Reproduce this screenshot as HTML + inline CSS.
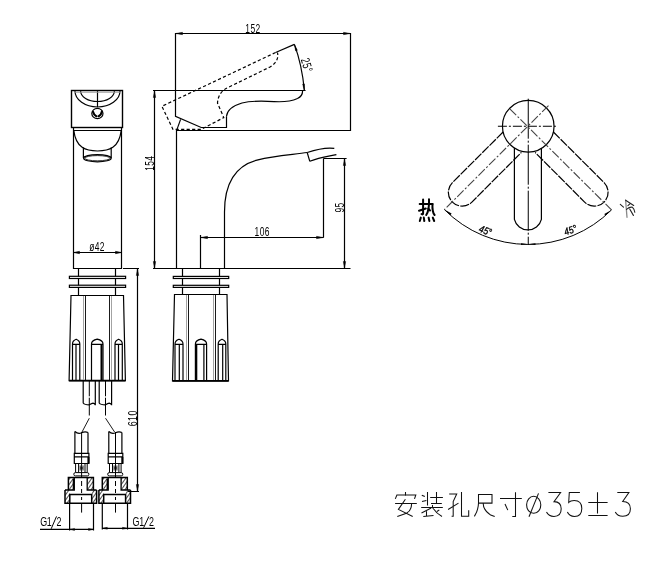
<!DOCTYPE html>
<html><head><meta charset="utf-8">
<style>
html,body{margin:0;padding:0;background:#fff;width:672px;height:562px;overflow:hidden}
svg{display:block;will-change:transform}
text{font-family:"Liberation Sans",sans-serif;fill:#000}
</style></head><body>
<svg width="672" height="562" viewBox="0 0 672 562">
<defs><pattern id="hatch" patternUnits="userSpaceOnUse" width="3" height="3" patternTransform="rotate(-55)"><rect width="3" height="3" fill="#fff"/><line x1="0" y1="1.5" x2="3" y2="1.5" stroke="#222" stroke-width="0.8"/></pattern></defs>
<g fill="none" stroke="#000" stroke-width="1.2" stroke-linecap="butt" stroke-linejoin="miter">

<!-- ============ FRONT VIEW (left) ============ -->
<rect x="71.5" y="90.5" width="51" height="37" stroke-width="1.4"/>
<path d="M75 91 A22.5 16 0 0 0 120 91"/>
<path d="M80.6 91 A16.9 10.5 0 0 0 114.4 91"/>
<path d="M97.5 91 V107"/>
<path d="M75 92.2 H120" stroke="#999" stroke-width="1"/>
<ellipse cx="97.4" cy="113.5" rx="5.6" ry="5.2"/>
<path d="M93 111.8 Q93.8 115 96.3 116.2 M101.9 111.4 Q101.2 115 98.6 116.2" stroke-width="2.1" stroke-linecap="round"/>
<!-- body -->
<path d="M73.5 127.5 V268.5 H121.5 V127.5"/>
<path d="M73.5 130.5 H121.5"/>
<path d="M73.8 130.6 C76 148 86 151 97.5 151 C109 151 119 148 121.2 130.6"/>
<path d="M83.4 147.5 V158 M111.2 147.5 V158"/>
<ellipse cx="97.4" cy="158.2" rx="13.8" ry="3.6"/>
<ellipse cx="97.4" cy="158.2" rx="12.6" ry="2.6" stroke-width="0.8"/>
<!-- dim 42 -->
<path d="M73.5 252.5 H121.5"/>
<path d="M73.5 252.5 l6 -1.2 v2.4 z M121.5 252.5 l-6 -1.2 v2.4 z" fill="#000" stroke-width="0.5"/>
<!-- neck + flanges -->
<path d="M78.5 268.5 V295.5 M115.5 268.5 V295.5"/>
<rect x="69.4" y="276.3" width="56.2" height="2.2" fill="#fff"/>
<rect x="69.4" y="285.2" width="56.2" height="2.2" fill="#fff"/>
<!-- nut -->
<path d="M71 295.5 H123.5 L125.4 380.6 H69.1 Z"/>
<path d="M69.1 380.6 H125.4" stroke-width="1.8"/>
<path d="M85.5 296 V380 M109.5 296 V380" stroke="#000" stroke-width="0.9"/>
<path d="M83.5 296 V380 M111.5 296 V380" stroke="#999" stroke-width="0.9"/>
<!-- slots -->
<path d="M72.5 380 V344 Q72.5 340.5 76.15 339.2 Q79.8 340.5 79.8 344 V380 M72.5 344.3 H79.8 M76 344 V380"/>
<path d="M91.5 380 V344 Q91.5 340.5 97.25 339.2 Q103 340.5 103 344 V380 M91.5 344.3 H103"/>
<path d="M101.5 345 V380" stroke-width="2"/>
<path d="M115 380 V344 Q115 340.5 118.65 339.2 Q122.3 340.5 122.3 344 V380 M115 344.3 H122.3 M118.5 344 V380"/>
<!-- hoses upper -->
<path d="M83.2 380.6 V403 Q84.5 404.8 89.3 404.8 Q92 403.2 93 403.2 Q95 403.4 95.3 405.2 V380.6 M99.2 380.6 V403 Q100.5 404.8 105.5 404.8 Q108 403.2 109.2 403.2 Q111.2 403.4 111.6 405.2 V380.6"/>
<path d="M89.3 381 V396.3 M89.3 397.7 V415.5 M105.5 381 V396.3 M105.5 397.7 V415.5" stroke-width="1"/>
<path d="M89.3 418.2 L82 432 M105.5 418.2 L114.6 432" stroke-width="0.9"/>
<!-- hoses lower -->
<g id="fit">
<path d="M74.9 431.5 Q78 434.5 81.6 432.8 Q85 431 88 432.5"/>
<path d="M74.9 431.5 V453.4 M88 432.5 V453.4"/>
<path d="M81.6 432 V478" stroke-width="1"/>
<!-- hex nut -->
<path d="M74.3 453.4 H88.9 V463.5 H74.3 Z M74.3 456.9 H88.9"/>
<path d="M88.4 456.9 V463.5" stroke-width="2"/>
<!-- threaded -->
<path d="M75.6 463.5 V472.5 M87.2 463.5 V472.5 M78.6 463.5 V472.5 M85 463.5 V472.5" stroke-width="1"/>
<path d="M80.2 465.5 V470.5 M83 465.5 V470.5 M80.2 468 H83" stroke-width="0.9"/>
<rect x="73.8" y="472.6" width="15.1" height="3.3" rx="1.6" stroke-width="1"/>
<!-- fitting -->
<path d="M68.7 477.5 H74.3 V490 H68.7 Z M87.2 477.5 H93.1 V490 H87.2 Z M65 490 H69.8 V503.2 H65 Z M91.7 490 H96.6 V503.2 H91.7 Z" fill="url(#hatch)" stroke="none"/>
<path d="M68.4 490 V477.5 H93.4 V490" stroke-width="1.5"/>
<path d="M65 490 H74.3 V477.5 M96.6 490 H87.2 V477.5" stroke-width="1.3"/>
<path d="M65 490 V503.3 H96.6 V490" stroke-width="1.5"/>
<path d="M69.8 503.3 V494.4 H91.7 V503.3" stroke-width="1.5"/>
<path d="M73.5 479 V489.5" stroke-width="1.6"/>
<path d="M81.6 481 V486 M81.6 489 V493" stroke-width="1"/>
<path d="M81.6 497 V500" stroke-width="1"/>
</g>
<use href="#fit" transform="translate(33.9 0)"/>
<!-- G1/2 dims -->
<path d="M51.2 528.8 L56.5 516.4 M143.6 527.8 L148.9 516.4" stroke-width="1"/>
<path d="M81.6 503 V512.6 M115.5 503 V512.6" stroke-width="1"/>
<path d="M69.6 503 V530.5 M93.5 503 V530.5 M40 529.4 H93.5"/>
<path d="M69.6 529.4 l5 -1 v2 z M93.5 529.4 l-5 -1 v2 z" fill="#000" stroke-width="0.4"/>
<path d="M102.3 503 V529.5 M127.5 503 V529.5 M102.3 528.3 H155"/>
<path d="M102.3 528.3 l5 -1 v2 z M127.5 528.3 l-5 -1 v2 z" fill="#000" stroke-width="0.4"/>
<!-- 610 dim -->
<path d="M123 268.5 H139 M137.5 268.5 V491.5 M128 491.5 H139"/>
<path d="M137.5 268.5 l-1.2 7 h2.4 z M137.5 491.5 l-1.2 -7 h2.4 z" fill="#000" stroke-width="0.4"/>

<!-- ============ SIDE VIEW (middle) ============ -->
<path d="M175.5 33.5 H350.5"/>
<path d="M175.5 33.5 l7 -1.2 v2.4 z M350.5 33.5 l-7 -1.2 v2.4 z" fill="#000" stroke-width="0.4"/>
<path d="M175.5 33 V116.3 L201.2 127.5 H226.5 V116.3"/>
<path d="M350.5 33 V130.5 H176.5 V268.5"/>
<path d="M153 90.5 H305.6"/>
<path d="M226.5 116.3 C227 111 232 106 242 103 C250 101 262 100.8 274 101.6 C284 102.2 292 101 297.5 98.5 C301.5 96.5 302.8 93.5 302.5 90.5"/>
<!-- dashed rotated handle -->
<path d="M294.4 44.4 L275.6 52.5" />
<path d="M275.6 52.5 L161.9 106.3 L173 129.4 H201 L223.8 117.6 L217.5 103.1 C218 95 222 90 229 87 L270 67 C277 62.5 278.5 58 277.5 52.5" stroke-dasharray="3.2 2.3"/>
<path d="M180.6 119.4 L176.9 129.6"/>
<!-- 25 deg arc -->
<path d="M294.4 44.4 Q302 65 304.4 90.6"/>
<path d="M294.4 44.4 l1.2 6.5 l1.8 -0.6 z M304.4 90.6 l-1.8 -6.5 l1.9 -0.2 z" fill="#000" stroke-width="0.4"/>
<!-- 154 dim -->
<path d="M154.5 90.5 V268.5 M153 268.5 H350.5"/>
<path d="M154.5 90.5 l-1.2 7 h2.4 z M154.5 268.5 l-1.2 -7 h2.4 z" fill="#000" stroke-width="0.4"/>
<!-- spout -->
<path d="M224.5 268.5 V212 C224.5 184 235 165.5 258 159.8 C275 155.5 295 154.5 307.2 152.5"/>
<path d="M307.2 152.5 L309.8 161.3 M307.2 152.5 C316 149.5 324 147 334.3 148.3 M309.8 161.3 C320 157.5 328 156.5 336.4 154.6"/>
<path d="M323.5 158.5 H346.6 M323.5 158.5 V237.5"/>
<path d="M200.5 235 V268.5 M200.5 237.5 H323.5"/>
<path d="M200.5 237.5 l7 -1.2 v2.4 z M323.5 237.5 l-7 -1.2 v2.4 z" fill="#000" stroke-width="0.4"/>
<path d="M344.5 158.5 V268.5"/>
<path d="M344.5 158.5 l-1.2 7 h2.4 z M344.5 268.5 l-1.2 -7 h2.4 z" fill="#000" stroke-width="0.4"/>
<!-- neck/flanges/nut side -->
<path d="M182.5 268.5 V294.5 M219.5 268.5 V294.5"/>
<rect x="173.3" y="276.4" width="55.4" height="2.1" fill="#fff"/>
<rect x="173.3" y="285.3" width="55.4" height="2.1" fill="#fff"/>
<path d="M174.5 294.5 H227 L228.5 380.9 H172.5 Z"/>
<path d="M172.5 380.9 H228.5" stroke-width="1.8"/>
<path d="M188.5 295 V380 M215.5 295 V380" stroke="#000" stroke-width="0.9"/>
<path d="M186.5 295 V380 M213.5 295 V380" stroke="#999" stroke-width="0.9"/>
<path d="M175 380 V344 Q175 340.5 179.0 339.2 Q183 340.5 183 344 V380 M175 344.3 H183 M179.3 344 V380"/>
<path d="M195.4 380 V344 Q195.4 340.5 201.0 339.2 Q206.6 340.5 206.6 344 V380 M195.4 344.3 H206.6 M203.9 344 V380"/>
<path d="M196.3 345 V380" stroke-width="2"/>
<path d="M218.2 380 V344 Q218.2 340.5 222.0 339.2 Q225.8 340.5 225.8 344 V380 M218.2 344.3 H225.8 M222.7 344 V380"/>

<!-- ============ TOP VIEW (right) ============ -->
<circle cx="528.25" cy="126.25" r="25.8"/>
<path d="M514.4 148 V219.3 A13.9 13.9 0 0 0 541.4 219.3 V148"/>
<path d="M503.1 132 L452.4 182.6 A13.75 13.75 0 0 0 471.9 202.1 L521.4 152.4" stroke-width="1.2" stroke-dasharray="9 1.2"/>
<path d="M553.4 132 L604.1 182.6 A13.75 13.75 0 0 1 584.6 202.1 L535.1 152.4" stroke-width="1.2" stroke-dasharray="9 1.2"/>
<path d="M497.9 126.25 H557.9" stroke-width="1" stroke-dasharray="9 2 2 2"/>
<path d="M528.25 98.7 V245" stroke-width="1" stroke-dasharray="40 2 2 2"/>
<path d="M548.5 105.6 L444.4 209.6 M509.8 108.8 L611.5 209.9" stroke-width="1.1" stroke="#444" stroke-dasharray="9 2 2 2"/>
<path d="M444.4 209.6 A118 118 0 0 0 611.5 209.9" stroke-width="1"/>
</g>

<!-- text -->
<g font-size="12">
<text transform="translate(245.3 32.6) scale(0.66 1)" font-size="12.8" letter-spacing="0.6">152</text>
<text transform="translate(153.6 170.8) rotate(-90) scale(0.66 1)" font-size="12.8" letter-spacing="0.6">154</text>
<text transform="translate(343.8 212.6) rotate(-90) scale(0.66 1)" font-size="12.8" letter-spacing="0.6">95</text>
<text transform="translate(254.6 236.4) scale(0.66 1)" font-size="12.8" letter-spacing="0.6">106</text>
<text transform="translate(89.2 251.2) scale(0.66 1)" font-size="12.8" letter-spacing="0.6">ø42</text>
<text transform="translate(137.4 426.3) rotate(-90) scale(0.66 1)" font-size="13.5" letter-spacing="0.6">610</text>
<text transform="translate(40.2 526.3) scale(0.66 1)" font-size="13.5">G</text><text transform="translate(46.8 526.3) scale(0.66 1)" font-size="13.5">1</text><text transform="translate(56.6 526.3) scale(0.66 1)" font-size="13.5">2</text>
<text transform="translate(132.6 526.3) scale(0.66 1)" font-size="13.5">G</text><text transform="translate(139.2 526.3) scale(0.66 1)" font-size="13.5">1</text><text transform="translate(149 526.3) scale(0.66 1)" font-size="13.5">2</text>
<text transform="translate(300.8 59.5) rotate(74) scale(0.68 1)" font-size="12.5" letter-spacing="0.8">25°</text>
</g>
<g font-size="10" font-style="italic" stroke="#000" stroke-width="0.35">
<text transform="translate(478.2 231.6) rotate(20) scale(0.85 1)">45°</text>
<text transform="translate(565.6 235.6) rotate(-20) scale(0.85 1)">45°</text>
</g>

<!-- arc arrows -->
<g fill="#000" stroke="none">
<path d="M444.4 209.6 L450.5 215.2 L451.6 213.6 z"/>
<path d="M611.5 209.9 L605.4 215.5 L604.3 213.9 z"/>
<path d="M528.25 244.2 L521 243.2 V245 z M528.25 244.2 L535.5 243.2 V245 z"/>
</g>
<!-- 热 -->
<g stroke="#000" stroke-width="2" fill="none" stroke-linecap="round">
<path d="M419.7 204 H432.5"/>
<path d="M423.1 199.4 V213.5 Q423 215 421.5 214"/>
<path d="M419 210.8 L425.8 208.5"/>
<path d="M429 199.2 Q429.5 210 426.2 215"/>
<path d="M432.5 204 Q432 212 434.6 215"/>
<path d="M428.3 208.6 L430 210.5"/>
<path d="M420.8 217.6 L419.8 221 M423.8 217.6 L424.3 221 M428.6 217.6 L429.4 221 M432.8 217.6 L434.2 221"/>
</g>
<!-- 冷 rotated -->
<g stroke="#222" stroke-width="1.1" fill="none" stroke-linecap="round">
<path d="M620.3 204.3 L623.5 207.1"/>
<path d="M625.6 200.2 L627 217.3" stroke="#888" stroke-width="1.3"/>
<path d="M625.6 200.2 L633.7 205.5"/>
<path d="M627.9 205.7 L630.2 203.6"/>
<path d="M626.5 209.4 Q630 206.5 632.5 207.3 Q634.5 209 634.8 212.2"/>
<path d="M629.7 209 L633.4 215.4"/>
</g>
<!-- bottom text -->
<g stroke="#111" stroke-width="1.05" fill="none">
<!-- 安 -->
<path d="M405.5 492.1 V495.8 M395.3 498.9 L396.9 495 H415.8 L414.5 498.9 M395.1 503.5 H416.8 M405.4 499.3 L398.4 509.4 L412.7 516.5 M411.6 504 C411.5 508 410 511.5 406.5 513.2 L397.3 516.5"/>
<!-- 装 -->
<path d="M421.8 495.2 L424.8 496.6 M422 501.6 L426.4 500.4 M427.5 492 V505.5 M430.2 497.5 H442.9 M436.5 492 V503.5 M431 503.5 H441.8 M421.2 507.5 H442.8 M432.5 505 V507.5 M431.2 508 L421.5 513 M426.5 511.3 V516.5 M423.3 516.5 L433.5 515.4 M432.8 508 Q436.5 513.5 442 516.5 M437 511.5 L439.3 509.8"/>
<!-- 孔 -->
<path d="M449.2 494 H456.7 L453.2 501.5 V516.2 H451.6 M448.1 509.5 L458.5 503.1 M461.5 492.1 V516.2 H468.7 V510.3"/>
<!-- 尺 -->
<path d="M478.5 494.5 H492 V503.1 H478.5 Z M478.5 503.1 Q478.4 510 474.4 516.4 M483.2 503.1 Q483 510 490.7 515.1 L494.7 516.4"/>
<!-- 寸 -->
<path d="M500 498.5 H521.8 M515.5 492.2 V516.5 H512.3 M505 504 L507.8 510.1"/>
<!-- ø -->
<ellipse cx="533.7" cy="504.8" rx="7.1" ry="8.5"/>
<path d="M538.5 493.4 L529 516.8"/>
<!-- 3 -->
<path d="M548.4 492.5 H560.6 L554 501.6 Q561.2 501.6 561.2 508.8 Q561.2 516.4 554 516.4 Q548.6 516.4 546.5 512"/>
<!-- 5 -->
<path d="M579.9 492.5 H569.3 L568.7 502.4 Q570.5 500.5 574.2 500.5 Q581.8 500.5 581.8 508.5 Q581.8 516.4 574.5 516.4 Q569.3 516.4 567.4 512"/>
<!-- ± -->
<path d="M597.5 492.3 V513.5 M588.3 502.5 H607.6 M588.3 515.5 H607.6"/>
<!-- 3 -->
<path d="M617.3 492.5 H628.9 L622.7 501.5 Q630.4 501.5 630.4 508.8 Q630.4 516.3 622.8 516.3 Q617.4 516.3 615.3 512"/>
</g>
</svg>
</body></html>
